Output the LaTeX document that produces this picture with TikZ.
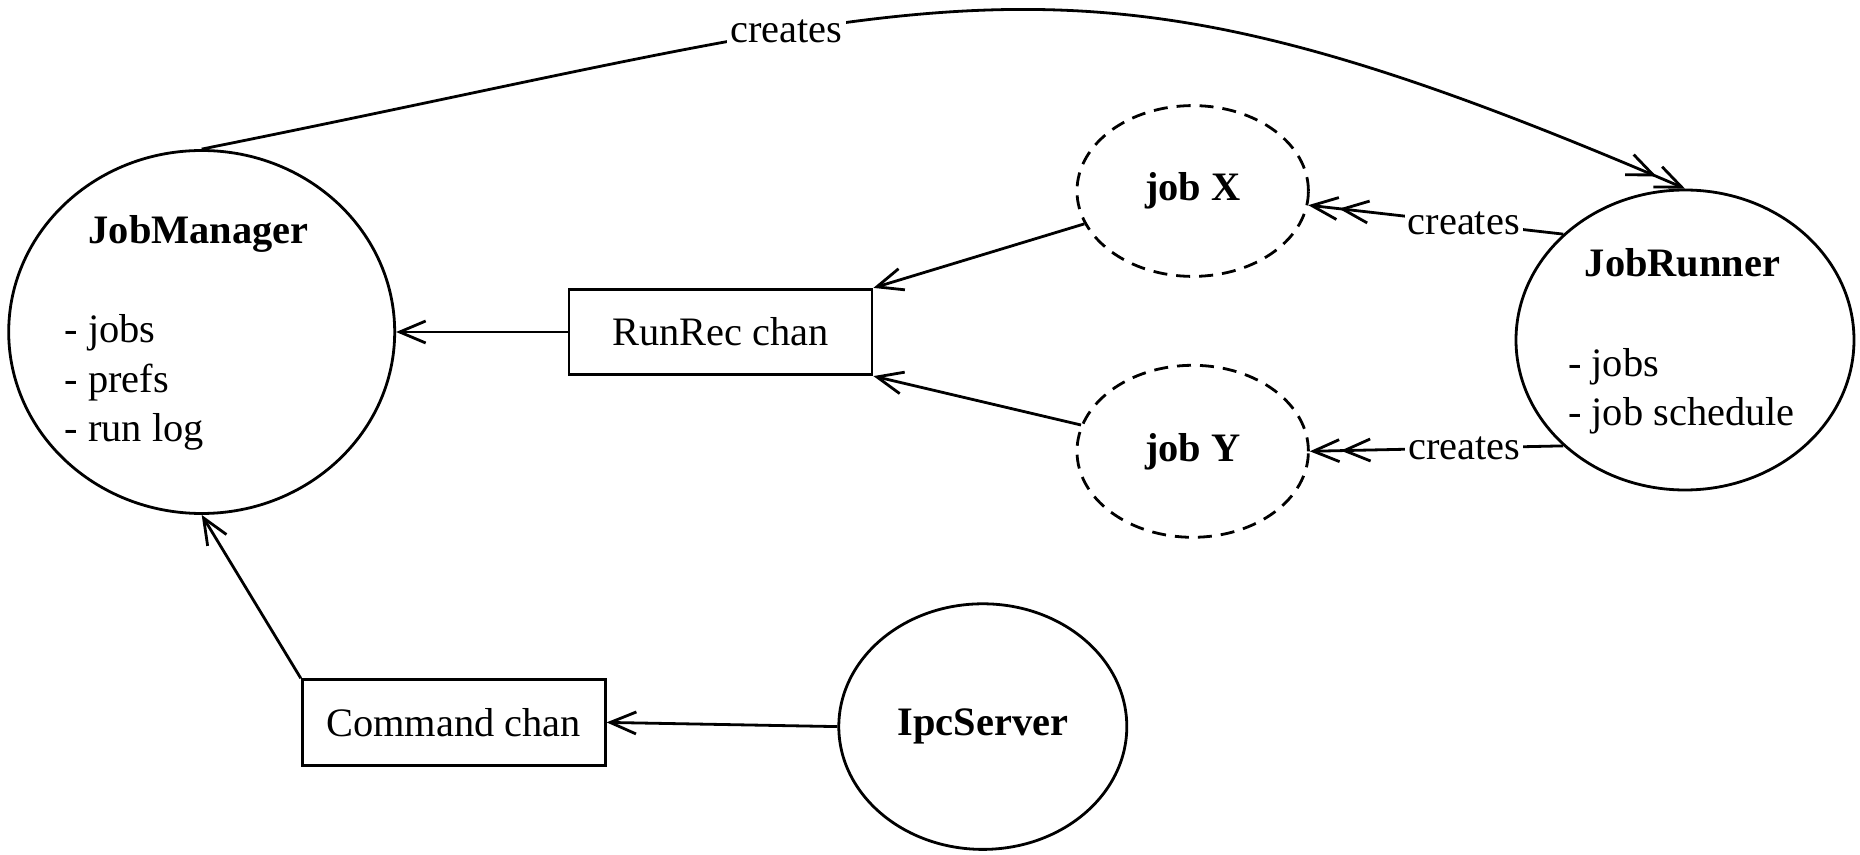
\documentclass[tikz,border=0pt]{standalone}
\usepackage{fontspec}
\setmainfont{Liberation Serif}
\usetikzlibrary{shapes.geometric,arrows.meta}
\begin{document}
\begin{tikzpicture}[x=0.5pt,y=-0.5pt, line width=1.4pt,
  font=\fontsize{20.2pt}{24.5pt}\selectfont,
  txt/.style={inner sep=0pt},
  ell/.style={draw, ellipse, inner sep=0pt},
  dell/.style={ell, dash pattern=on 7pt off 4.5pt},
  box/.style={draw, rectangle, inner sep=0pt, minimum width=151.5pt, minimum height=42.7pt},
  arr/.style={-{Straight Barb[length=13pt,width=11pt]}},
  darr/.style={-{Straight Barb[length=13pt,width=11pt] Straight Barb[length=13pt,width=11pt]}},
  lbl/.style={fill=white, inner sep=1.5pt}
]
\useasboundingbox (0,0) rectangle (1860,855);

\node[ell, minimum width=193pt, minimum height=181.5pt] (jm) at (201.7,332) {};
\node[ell, minimum width=169pt, minimum height=150pt] (jr) at (1685,340) {};
\node[dell, minimum width=115.7pt, minimum height=85.4pt] (jx) at (1192.7,191) {\textbf{job X}};
\node[dell, minimum width=115.7pt, minimum height=86pt] (jy) at (1192.7,451.3) {\textbf{job Y}};
\node[ell, minimum width=144pt, minimum height=122.8pt] (ipc) at (982.8,726.6) {\textbf{IpcServer}};
\node[box] (rr) at (720.5,332) {RunRec chan};
\node[box] (cc) at (453.7,722.4) {Command chan};

\node[txt, anchor=base] (jmt) at (198.7,243.3) {\textbf{JobManager}};
\node[txt, anchor=base west] (jm1) at (63.3,343) {- jobs};
\node[txt, anchor=base west] (jm2) at (63.3,392.5) {- prefs};
\node[txt, anchor=base west] (jm3) at (63.3,442) {- run log};

\node[txt, anchor=base] (jrt) at (1682.5,276.7) {\textbf{JobRunner}};
\node[txt, anchor=base west] (jr1) at (1566.7,376.7) {- jobs};
\node[txt, anchor=base west] (jr2) at (1566.7,425.5) {- job schedule};

\draw[darr] (jm.north) .. controls (975,-6) and (1060,-80) .. node[lbl, pos=0.33] {creates} (jr.north);
\draw[arr] (jx) -- (rr.north east);
\draw[arr] (jy) -- (rr.south east);
\draw[arr] (rr.west) -- (jm.east);
\draw[arr] (cc.north west) -- (jm.south);
\draw[arr] (ipc.west) -- (cc.east);
\draw[darr] (jr.139) -- node[lbl, pos=0.39] {creates} (jx.353);
\draw[darr] (jr.221) -- node[lbl, pos=0.39] {creates} (jy.0);
\end{tikzpicture}
\end{document}
